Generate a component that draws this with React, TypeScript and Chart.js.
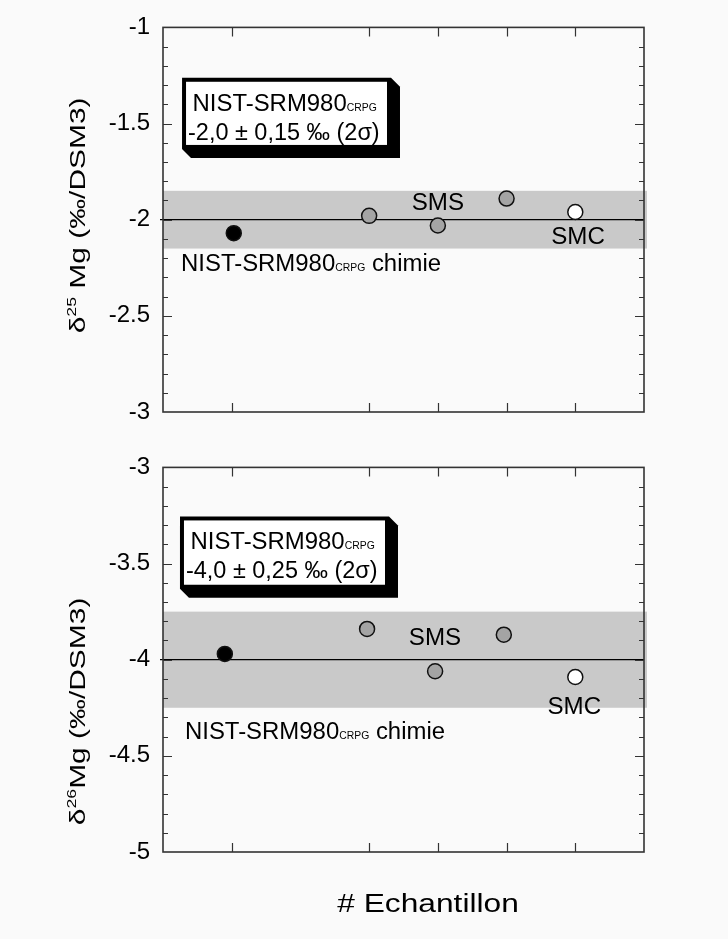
import React, { useEffect, useRef } from "react";
import { Chart, registerables } from "chart.js";

Chart.register(...registerables);

// ---------- data ----------
const X_MIN = 0;
const X_MAX = 7;
const X_TICKS = [1, 3, 4, 5, 6];

const MG25_X = [1.03, 3.0, 4.0, 5.0, 6.0];
const MG25_Y = [-2.07, -1.98, -2.03, -1.89, -1.96];
const MG25_TICKS = [-1, -1.5, -2, -2.5, -3];
const MG25_MEAN = -2.0;
const MG25_2SD = 0.15;

const MG26_X = [0.9, 2.97, 3.96, 4.96, 6.0];
const MG26_Y = [-3.97, -3.84, -4.06, -3.87, -4.09];
const MG26_TICKS = [-3, -3.5, -4, -4.5, -5];
const MG26_MEAN = -4.0;
const MG26_2SD = 0.25;

const MARKER_FILLS = ["#000000", "#a4a4a4", "#a4a4a4", "#a4a4a4", "#ffffff"];

// ---------- styles ----------
const FONT = "'Liberation Sans', Arial, Helvetica, sans-serif";
const BG = "#fafafa";

type Seg = { t: string; size: number; dy?: number };

function drawSegs(ctx: CanvasRenderingContext2D, segs: Seg[], x: number, y: number, align: "left" | "center", stretch = 1) {
  ctx.save();
  ctx.translate(x, y);
  ctx.scale(stretch, 1);
  ctx.textAlign = "left";
  ctx.textBaseline = "alphabetic";
  let total = 0;
  const widths = segs.map((s) => {
    ctx.font = `${s.size}px ${FONT}`;
    const w = ctx.measureText(s.t).width;
    total += w;
    return w;
  });
  let cx = align === "center" ? -total / 2 : 0;
  segs.forEach((s, i) => {
    ctx.font = `${s.size}px ${FONT}`;
    ctx.fillText(s.t, cx, s.dy || 0);
    cx += widths[i];
  });
  ctx.restore();
}

const PANELS = [
  {
    key: "mg25",
    xs: MG25_X,
    ys: MG25_Y,
    ticks: MG25_TICKS,
    yMin: -3,
    yMax: -1,
    mean: MG25_MEAN,
    sd: MG25_2SD,
    line2: "-2,0 ± 0,15 ‰ (2σ)",
    title: [
      { t: "δ", size: 22 },
      { t: "25", size: 13, dy: -9 },
      { t: " Mg (‰/DSM3)", size: 22 },
    ],
    box: { x0: 0.277, y0: -1.262, x1: 3.318, y1: -1.632 },
    sms: { x: 4.0, y: -1.948 },
    smc: { x: 6.04, y: -2.124 },
    chimie: { x: 0.262, y: -2.269 },
    canvasTop: 0,
    canvasH: 440,
    padTop: 23,
    xAxisH: 28,
    titleX: 85,
    titleY: 211,
    xTitle: false,
  },
  {
    key: "mg26",
    xs: MG26_X,
    ys: MG26_Y,
    ticks: MG26_TICKS,
    yMin: -5,
    yMax: -3,
    mean: MG26_MEAN,
    sd: MG26_2SD,
    line2: "-4,0 ± 0,25 ‰ (2σ)",
    title: [
      { t: "δ", size: 22 },
      { t: "26", size: 13, dy: -9 },
      { t: "Mg (‰/DSM3)", size: 22 },
    ],
    box: { x0: 0.247, y0: -3.255, x1: 3.289, y1: -3.631 },
    sms: { x: 3.958, y: -3.922 },
    smc: { x: 5.986, y: -4.281 },
    chimie: { x: 0.32, y: -4.41 },
    canvasTop: 440,
    canvasH: 499,
    padTop: 22,
    xAxisH: 87,
    titleX: 85,
    titleY: 266,
    xTitle: true,
  },
];

type Panel = (typeof PANELS)[number];

function decoPlugin(p: Panel) {
  return {
    id: "deco_" + p.key,
    beforeDatasetsDraw(chart: any) {
      const { ctx, chartArea: a, scales } = chart;
      const x = scales.x;
      const y = scales.y;
      ctx.save();
      // 2 sigma band
      const yt = y.getPixelForValue(p.mean + p.sd);
      const yb = y.getPixelForValue(p.mean - p.sd);
      ctx.fillStyle = "#c9c9c9";
      ctx.fillRect(a.left, yt, a.right - a.left + 3, yb - yt);
      // mean line
      const ym = y.getPixelForValue(p.mean);
      ctx.strokeStyle = "#000";
      ctx.lineWidth = 1.3;
      ctx.beginPath();
      ctx.moveTo(a.left - 3, ym);
      ctx.lineTo(a.right, ym);
      ctx.stroke();
      // frame
      ctx.strokeStyle = "#333";
      ctx.lineWidth = 1.6;
      ctx.strokeRect(a.left, a.top, a.right - a.left, a.bottom - a.top);
      // inward y ticks (minor 0.1, major 0.5)
      ctx.lineWidth = 1.2;
      const n = Math.round((p.yMax - p.yMin) / 0.1);
      for (let i = 1; i < n; i++) {
        const v = p.yMin + i * 0.1;
        const py = Math.round(y.getPixelForValue(v)) + 0.5;
        const len = i % 5 === 0 ? 9 : 5;
        ctx.beginPath();
        ctx.moveTo(a.left, py);
        ctx.lineTo(a.left + len, py);
        ctx.moveTo(a.right, py);
        ctx.lineTo(a.right - len, py);
        ctx.stroke();
      }
      // inward x ticks
      X_TICKS.forEach((v) => {
        const px = Math.round(x.getPixelForValue(v)) + 0.5;
        ctx.beginPath();
        ctx.moveTo(px, a.top);
        ctx.lineTo(px, a.top + 9);
        ctx.moveTo(px, a.bottom);
        ctx.lineTo(px, a.bottom - 9);
        ctx.stroke();
      });
      ctx.restore();
    },
    afterDatasetsDraw(chart: any) {
      const { ctx, chartArea: a, scales } = chart;
      const x = scales.x;
      const y = scales.y;
      ctx.save();
      // box with 3D shadow
      const x0 = x.getPixelForValue(p.box.x0);
      const x1 = x.getPixelForValue(p.box.x1);
      const y0 = y.getPixelForValue(p.box.y0);
      const y1 = y.getPixelForValue(p.box.y1);
      const d = 9;
      const b = 4;
      ctx.fillStyle = "#000";
      ctx.beginPath();
      ctx.moveTo(x0, y0);
      ctx.lineTo(x1, y0);
      ctx.lineTo(x1 + d, y0 + d);
      ctx.lineTo(x1 + d, y1 + d);
      ctx.lineTo(x0 + d, y1 + d);
      ctx.lineTo(x0, y1);
      ctx.closePath();
      ctx.fill();
      ctx.fillStyle = "#fff";
      ctx.fillRect(x0 + b, y0 + b, x1 - x0 - 2 * b, y1 - y0 - 2 * b);
      ctx.fillStyle = "#000";
      drawSegs(ctx, [{ t: "NIST-SRM980", size: 23 }, { t: "CRPG", size: 10 }], x0 + 10.5, y0 + 33, "left", 1.04);
      drawSegs(ctx, [{ t: p.line2, size: 23 }], x0 + 6, y0 + 62, "left", 1.02);
      // labels
      drawSegs(ctx, [{ t: "SMS", size: 23 }], x.getPixelForValue(p.sms.x), y.getPixelForValue(p.sms.y), "center", 1.05);
      drawSegs(ctx, [{ t: "SMC", size: 23 }], x.getPixelForValue(p.smc.x), y.getPixelForValue(p.smc.y), "center", 1.05);
      drawSegs(
        ctx,
        [
          { t: "NIST-SRM980", size: 23 },
          { t: "CRPG", size: 10 },
          { t: " chimie", size: 23 },
        ],
        x.getPixelForValue(p.chimie.x),
        y.getPixelForValue(p.chimie.y),
        "left",
        1.04
      );
      // rotated y title
      ctx.save();
      ctx.translate(p.titleX, a.top + p.titleY - p.padTop);
      ctx.rotate(-Math.PI / 2);
      drawSegs(ctx, p.title as Seg[], 0, 0, "center", 1.36);
      ctx.restore();
      // x title
      if (p.xTitle) {
        drawSegs(ctx, [{ t: "# Echantillon", size: 26 }], 428, a.bottom + 60, "center", 1.22);
      }
      ctx.restore();
    },
  };
}

function PanelChart({ p }: { p: Panel }) {
  const ref = useRef<HTMLCanvasElement | null>(null);
  useEffect(() => {
    if (!ref.current) return;
    const chart = new Chart(ref.current, {
      type: "scatter",
      data: {
        datasets: [
          {
            data: p.xs.map((xv, i) => ({ x: xv, y: p.ys[i] })),
            pointBackgroundColor: MARKER_FILLS,
            pointBorderColor: "#111",
            pointBorderWidth: 1.5,
            pointRadius: 7.5,
            showLine: false,
          },
        ],
      },
      options: {
        responsive: false,
        maintainAspectRatio: false,
        animation: false,
        devicePixelRatio: 1,
        layout: { padding: { left: 0, right: 84, top: p.padTop, bottom: 0 } },
        plugins: {
          legend: { display: false },
          tooltip: { enabled: false },
          title: { display: false },
        },
        scales: {
          x: {
            type: "linear",
            min: X_MIN,
            max: X_MAX,
            ticks: { display: false },
            grid: { display: false, drawTicks: false },
            border: { display: false },
            afterFit: (s: any) => {
              s.height = p.xAxisH;
            },
          },
          y: {
            type: "linear",
            min: p.yMin,
            max: p.yMax,
            afterBuildTicks: (s: any) => {
              s.ticks = p.ticks.map((v) => ({ value: v }));
            },
            ticks: {
              font: { size: 24, family: FONT },
              color: "#000",
              padding: 13,
              callback: (v: any) => String(v),
            },
            grid: { display: false, drawTicks: false },
            border: { display: false },
            afterFit: (s: any) => {
              s.width = 163;
            },
          },
        },
      },
      plugins: [decoPlugin(p)],
    } as any);
    return () => chart.destroy();
  }, [p]);
  return (
    <canvas
      ref={ref}
      width={728}
      height={p.canvasH}
      style={{ position: "absolute", left: 0, top: p.canvasTop, width: 728, height: p.canvasH }}
    />
  );
}

export default function App() {
  return (
    <div
      style={{
        position: "fixed",
        left: 0,
        top: 0,
        width: 728,
        height: 939,
        background: BG,
        overflow: "hidden",
      }}
    >
      {PANELS.map((p) => (
        <PanelChart key={p.key} p={p} />
      ))}
    </div>
  );
}
